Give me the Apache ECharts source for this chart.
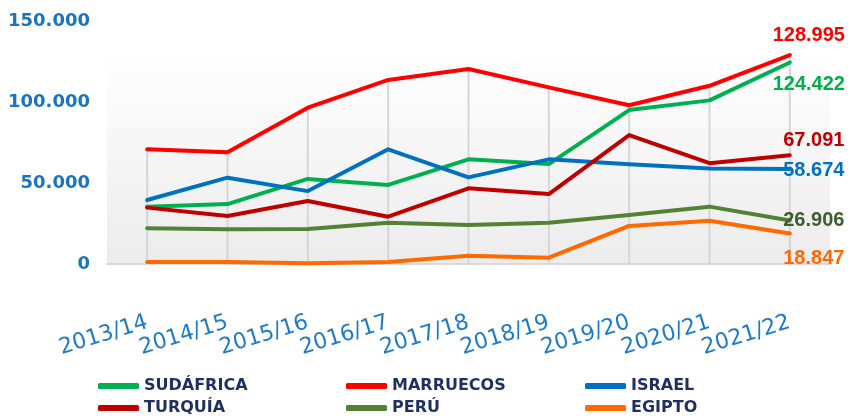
<!DOCTYPE html>
<html>
<head>
<meta charset="utf-8">
<script src="https://cdn.jsdelivr.net/npm/echarts@6/dist/echarts.min.js"></script>
<style>
html,body{margin:0;padding:0;background:#fff;}
#chart{width:851px;height:416px;}
</style>
</head>
<body>
<div id="chart"></div>
<script>
// ---- data ----
const categories = ['2013/14','2014/15','2015/16','2016/17','2017/18','2018/19','2019/20','2020/21','2021/22'];
const sudafrica = [35400, 37000, 52500, 48800, 64600, 61700, 95000, 101000, 124422];
const marruecos = [70800, 69000, 96500, 113600, 120400, 109000, 98000, 110000, 128995];
const israel    = [39500, 53300, 45000, 70800, 53500, 64600, 61500, 59000, 58674];
const turquia   = [34800, 29600, 38900, 29200, 46700, 43200, 79600, 62200, 67091];
const peru      = [22000, 21400, 21600, 25500, 24000, 25500, 30200, 35400, 26906];
const egipto    = [1200, 1200, 400, 1200, 5100, 3900, 23500, 26700, 18847];
const yTicks = [0, 50000, 100000, 150000];

// ---- styles ----
const seriesDefs = [
  {name:'SUDÁFRICA', data:sudafrica, color:'#00B050', labelColor:'#00B050', off:[19,22], lg:[93,373]},
  {name:'MARRUECOS', data:marruecos, color:'#FF0000', labelColor:'#FF0000', off:[19,-20], lg:[341,373]},
  {name:'ISRAEL',    data:israel,    color:'#0070C0', labelColor:'#0070C0', off:[24,2], lg:[580,373]},
  {name:'TURQUÍA',   data:turquia,   color:'#C00000', labelColor:'#C00000', off:[24,-15], lg:[93,395]},
  {name:'PERÚ',      data:peru,      color:'#548235', labelColor:'#3B5E2B', off:[24,0], lg:[341,395]},
  {name:'EGIPTO',    data:egipto,    color:'#FF6A00', labelColor:'#FF6A00', off:[24,25], lg:[580,395]}
];
const fmt = v => String(v).replace(/\B(?=(\d{3})+(?!\d))/g, '.');
const maxPerCat = categories.map((c,i) => Math.max(...seriesDefs.map(s => s.data[i])));

const chart = echarts.init(document.getElementById('chart'));

const lineSeries = seriesDefs.map(s => ({
  name: s.name,
  type: 'line',
  z: 5,
  showSymbol: true,
  symbol: 'circle',
  symbolSize: 0,
  lineStyle: {width: 4, color: s.color, cap: 'round', join: 'round'},
  itemStyle: {color: s.color},
  data: s.data.map((v, i) => i === s.data.length - 1 ? {
    value: v,
    label: {
      show: true, position: 'inside', align: 'center', verticalAlign: 'middle',
      offset: s.off, formatter: fmt(v), color: s.labelColor,
      fontFamily: "'Liberation Sans', Arial, sans-serif", fontWeight: 'bold', fontSize: 20
    }
  } : v),
  label: {show: false},
  emphasis: {disabled: true},
  animation: false
}));

const legends = seriesDefs.map(s => ({
  orient: 'horizontal',
  left: s.lg[0],
  top: s.lg[1],
  itemWidth: 41,
  itemHeight: 6,
  icon: 'roundRect',
  data: [s.name],
  textStyle: {
    color: '#1F2F5F', fontSize: 16, fontWeight: 'bold',
    fontFamily: "'DejaVu Sans', sans-serif"
  },
  selectedMode: false
}));

chart.setOption({
  animation: false,
  backgroundColor: '#ffffff',
  graphic: [{
    type: 'rect', z: -10, silent: true,
    shape: {x: 107, y: 49, width: 723, height: 215},
    style: {fill: new echarts.graphic.LinearGradient(0,0,0,1,[
      {offset:0, color:'#FFFFFF'},{offset:1, color:'#ECECEC'}
    ])}
  }],
  grid: {left: 107, right: 21, top: 21, bottom: 152},
  legend: legends,
  xAxis: {
    type: 'category',
    data: categories,
    boundaryGap: true,
    axisLine: {show: true, lineStyle: {color: '#D9D9D9', width: 2}},
    axisTick: {show: false},
    axisLabel: {
      rotate: 17, interval: 0, margin: 58,
      color: '#1E7BC6', fontSize: 22, fontFamily: "'DejaVu Sans', Verdana, sans-serif"
    },
    splitLine: {show: false}
  },
  yAxis: {
    type: 'value',
    min: 0, max: 150000, interval: 50000,
    axisLine: {show: false},
    axisTick: {show: false},
    splitLine: {show: false},
    axisLabel: {
      margin: 17,
      color: '#1B75BC', fontSize: 18, fontWeight: 'bold',
      fontFamily: "'DejaVu Sans', Verdana, sans-serif",
      formatter: v => yTicks.includes(v) ? fmt(v) : ''
    }
  },
  series: [{
    name: 'drop', type: 'bar', z: 1, silent: true, barWidth: 2,
    itemStyle: {color: '#D6D6D6'},
    data: maxPerCat, emphasis: {disabled: true}
  }].concat(lineSeries)
});
</script>
</body>
</html>
